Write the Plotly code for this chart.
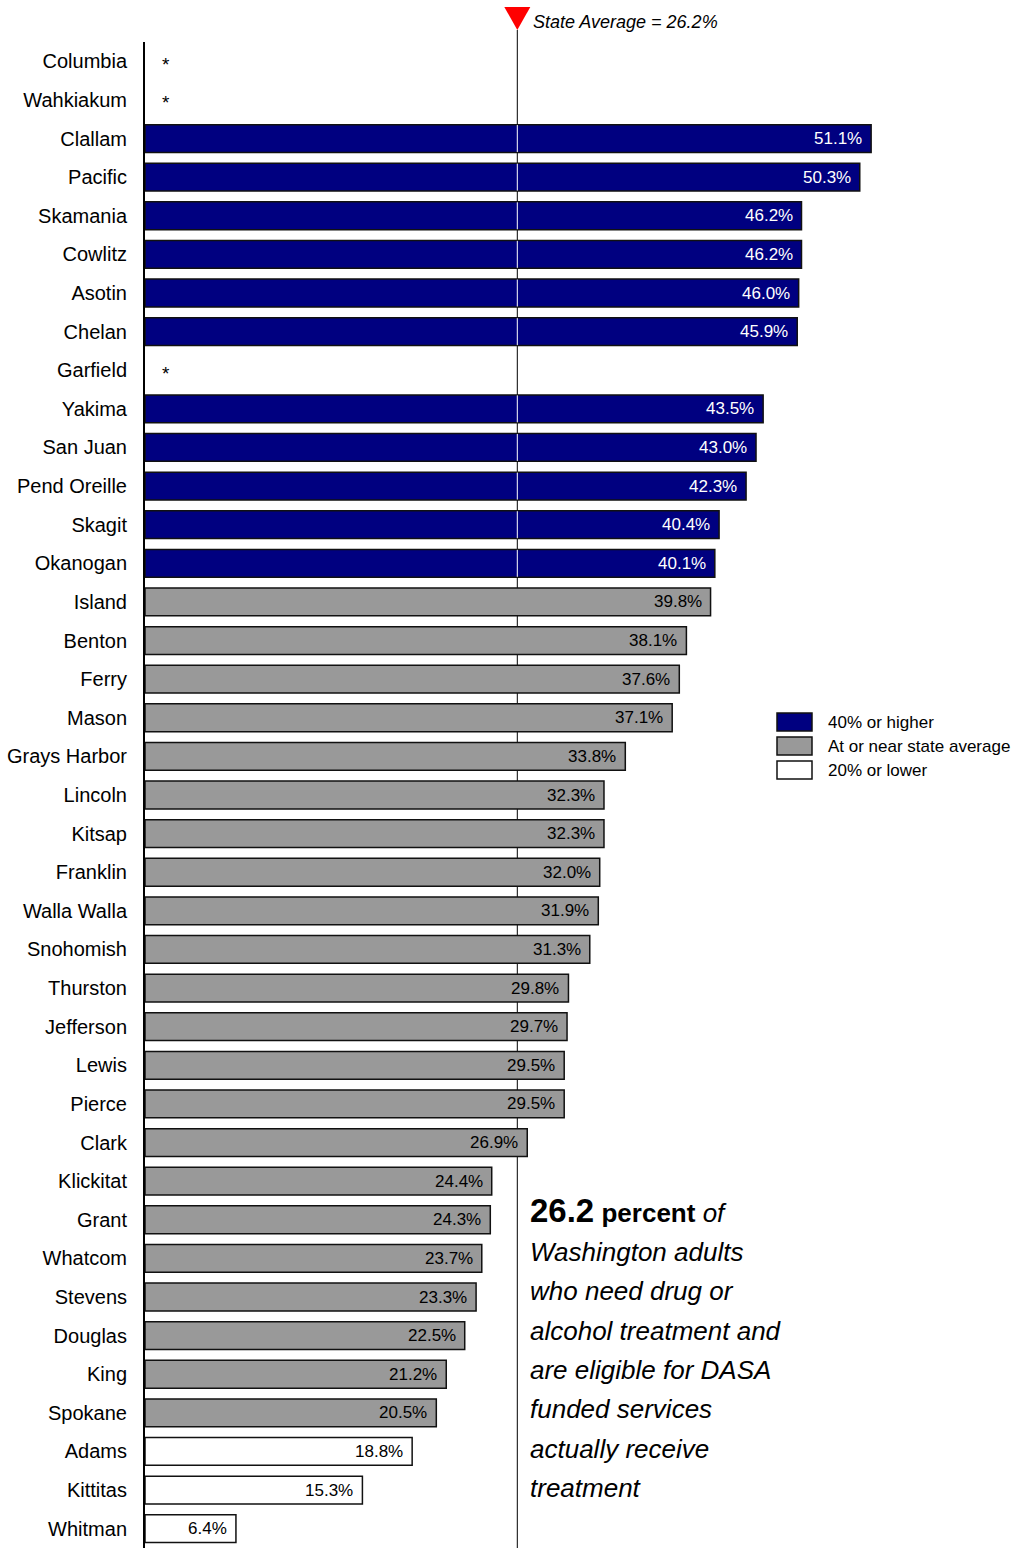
import plotly.graph_objects as go

counties = ["Columbia", "Wahkiakum", "Clallam", "Pacific", "Skamania", "Cowlitz", "Asotin",
            "Chelan", "Garfield", "Yakima", "San Juan", "Pend Oreille", "Skagit", "Okanogan",
            "Island", "Benton", "Ferry", "Mason", "Grays Harbor", "Lincoln", "Kitsap",
            "Franklin", "Walla Walla", "Snohomish", "Thurston", "Jefferson", "Lewis", "Pierce",
            "Clark", "Klickitat", "Grant", "Whatcom", "Stevens", "Douglas", "King", "Spokane",
            "Adams", "Kittitas", "Whitman"]
values = [None, None, 51.1, 50.3, 46.2, 46.2, 46.0, 45.9, None, 43.5, 43.0, 42.3, 40.4, 40.1,
          39.8, 38.1, 37.6, 37.1, 33.8, 32.3, 32.3, 32.0, 31.9, 31.3, 29.8, 29.7, 29.5, 29.5,
          26.9, 24.4, 24.3, 23.7, 23.3, 22.5, 21.2, 20.5, 18.8, 15.3, 6.4]
state_avg = 26.2
legend_labels = ["40% or higher", "At or near state average", "20% or lower"]
body_lines = ["Washington adults", "who need drug or", "alcohol treatment and",
              "are eligible for DASA", "funded services", "actually receive", "treatment"]

NAVY, GRAY, WHITE = "#000080", "#999999", "#ffffff"
FONT = "Liberation Sans Narrow, Arial Narrow, Liberation Sans, Arial, sans-serif"

W, H = 1021, 1548
L, T = 145, 42
PW, PH = W - L, H - T
PX_PER = 14.21
xmax = PW / PX_PER
n = len(counties)

def px(x):
    return (x - L) / PW

def py(y):
    return 1 - (y - T) / PH

def color_for(v):
    if v is None:
        return WHITE
    if v >= 40:
        return NAVY
    if v <= 20:
        return WHITE
    return GRAY

colors = [color_for(v) for v in values]

fig = go.Figure()
fig.add_trace(go.Bar(
    y=counties, x=values, orientation="h",
    marker=dict(color=colors, line=dict(color="#111111", width=1.5)),
    hoverinfo="skip", showlegend=False,
))

annotations = []
for c, v in zip(counties, values):
    if v is None:
        annotations.append(dict(x=1.45, y=c, xref="x", yref="y", text="*", showarrow=False,
                                xanchor="center", yshift=-3,
                                font=dict(family=FONT, size=19, color="black")))
        continue
    annotations.append(dict(
        x=v, y=c, xref="x", yref="y", text=f"{v:.1f}%", showarrow=False,
        xanchor="right", xshift=-7, yshift=0,
        font=dict(family=FONT, size=17, color="white" if v >= 40 else "black"),
    ))

shapes = []
shapes.append(dict(type="line", xref="x", yref="paper", x0=state_avg, x1=state_avg,
                   y0=0, y1=py(30), line=dict(color="black", width=1), layer="below"))
for i, v in enumerate(values):
    if v is not None and v >= 40:
        shapes.append(dict(type="line", xref="x", yref="y", x0=state_avg, x1=state_avg,
                           y0=i - 0.35, y1=i + 0.35, line=dict(color="white", width=1),
                           layer="above"))
shapes.append(dict(type="path", xref="x", yref="paper", xsizemode="pixel", ysizemode="pixel",
                   xanchor=state_avg, yanchor=py(7),
                   path="M -13,0 L 13,0 L 0,-23 Z", fillcolor="#ff0000",
                   line=dict(width=0)))
annotations.append(dict(x=px(531), y=py(22), xref="paper", yref="paper", xanchor="left",
                        yanchor="middle", showarrow=False,
                        text="<i>State Average = 26.2%</i>",
                        font=dict(family=FONT, size=18, color="black")))

leg_cols = [NAVY, GRAY, WHITE]
for k, (lab, col) in enumerate(zip(legend_labels, leg_cols)):
    cy = 722 + 24 * k
    shapes.append(dict(type="rect", xref="paper", yref="paper", x0=px(777), x1=px(812),
                       y0=py(cy + 9), y1=py(cy - 9), fillcolor=col,
                       line=dict(color="#111111", width=1.5)))
    annotations.append(dict(x=px(826), y=py(cy), xref="paper", yref="paper", xanchor="left",
                            yanchor="middle", showarrow=False, text=lab,
                            font=dict(family=FONT, size=17, color="black")))

annotations.append(dict(x=px(528), y=py(1210), xref="paper", yref="paper", xanchor="left",
                        yanchor="middle", showarrow=False, align="left",
                        text="<b><span style='font-size:33px'>26.2</span> percent</b> <i>of</i>",
                        font=dict(family=FONT, size=26, color="black")))
for k, line in enumerate(body_lines):
    annotations.append(dict(x=px(528), y=py(1252 + 39.3 * k), xref="paper", yref="paper",
                            xanchor="left", yanchor="middle", showarrow=False, align="left",
                            text="<i>" + line + "</i>",
                            font=dict(family=FONT, size=26, color="black")))

fig.update_layout(
    width=W, height=H, margin=dict(l=L, r=0, t=T, b=0, autoexpand=False),
    paper_bgcolor="white", plot_bgcolor="white",
    bargap=0.28, shapes=shapes, annotations=annotations,
    xaxis=dict(range=[0, xmax], visible=False, fixedrange=True),
    yaxis=dict(range=[n - 0.5, -0.5], autorange=False, automargin=False,
               showline=True, linecolor="black", linewidth=2,
               ticks="", showgrid=False, ticklabelstandoff=12,
               tickfont=dict(family=FONT, size=20, color="black")),
    showlegend=False,
)
fig.write_html("out.html")
